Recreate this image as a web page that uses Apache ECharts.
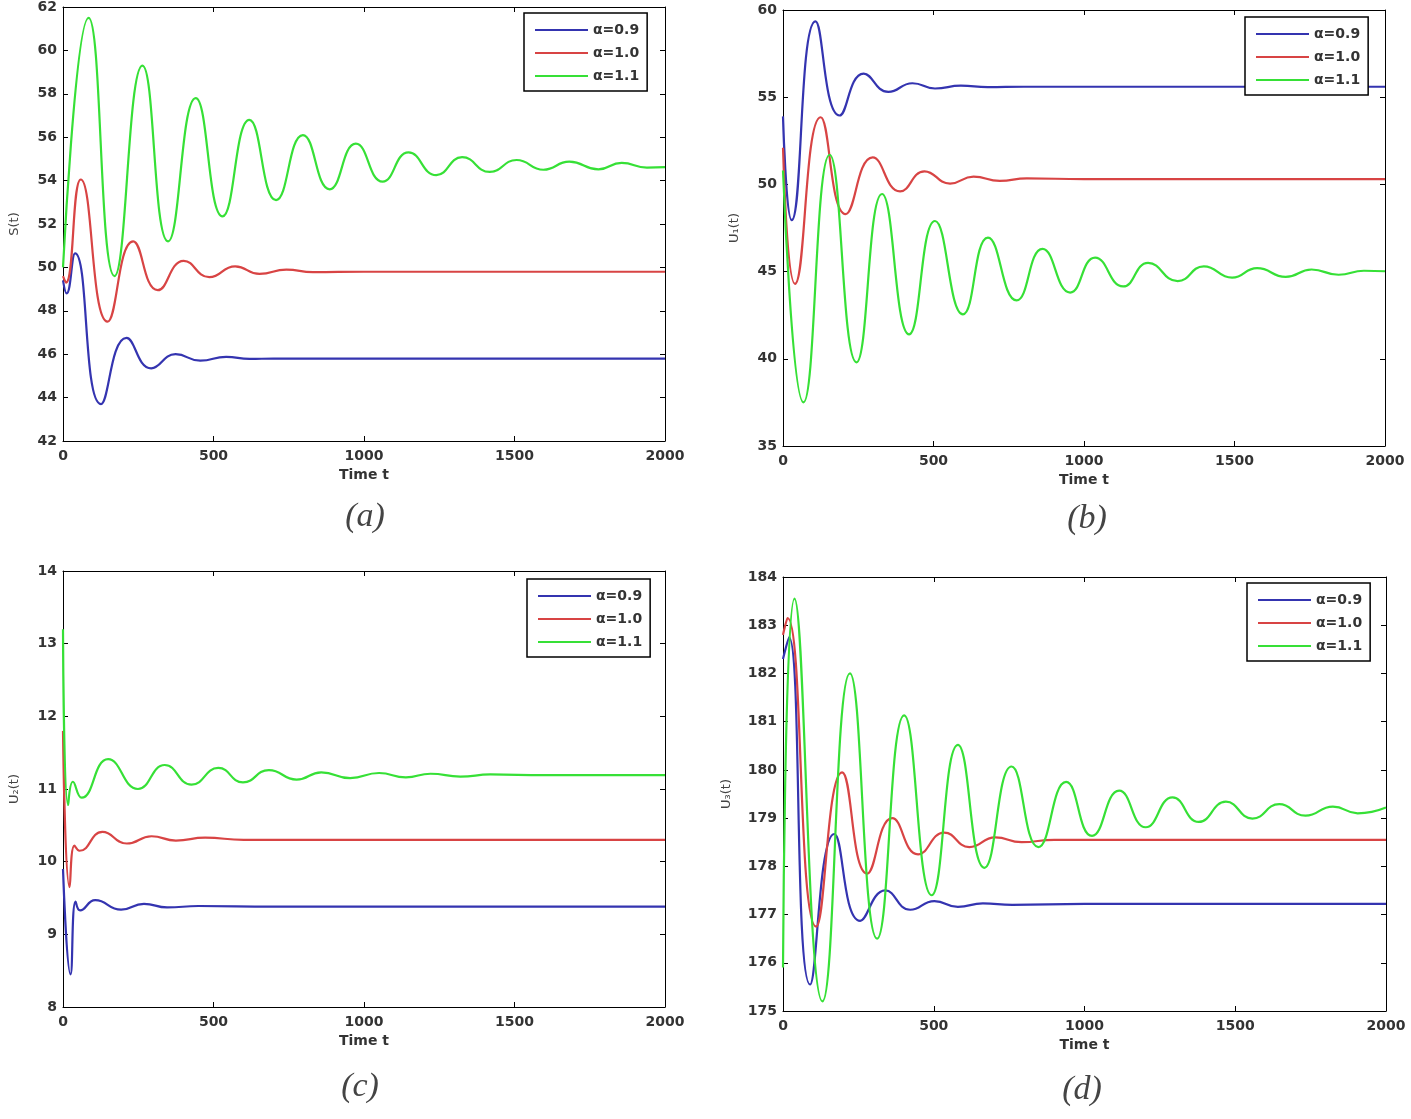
<!DOCTYPE html>
<html>
<head>
<meta charset="utf-8">
<script src="https://cdn.jsdelivr.net/npm/echarts@6/dist/echarts.min.js"></script>
<style>
html,body{margin:0;padding:0;background:#fff;}
#chart{width:1411px;height:1119px;}
</style>
</head>
<body>
<div id="chart"></div>
<script>
// ---- data (time t, value) ----
const seriesNames = ['α=0.9', 'α=1.0', 'α=1.1'];
const panelLabels = ['(a)', '(b)', '(c)', '(d)'];
const yNames = ['S(t)', 'U₁(t)', 'U₂(t)', 'U₃(t)'];
const xName = 'Time t';

// Panel (a) S(t)
const aBlue = [[0,49.4],[12,48.8],[40,50.65],[126,43.7],[211,46.75],[293,45.35],[374,46.0],[456,45.7],[542,45.88],[620,45.78],[700,45.8],[900,45.8],[1300,45.8],[2000,45.8]];
const aRed = [[0,49.6],[10,49.3],[59,54.05],[148,47.5],[233,51.2],[315,48.95],[401,50.3],[486,49.55],[572,50.05],[653,49.7],[742,49.9],[830,49.78],[1000,49.8],[1500,49.8],[2000,49.8]];
const aGreen = [[0,50.0],[85,61.5],[171,49.6],[264,59.3],[349,51.2],[441,57.8],[530,52.35],[619,56.8],[708,53.1],[797,56.1],[886,53.6],[973,55.7],[1062,53.95],[1148,55.3],[1240,54.25],[1326,55.08],[1418,54.4],[1507,54.95],[1596,54.5],[1682,54.87],[1779,54.52],[1856,54.82],[1940,54.6],[2000,54.62]];

// Panel (b) U1(t)
const bBlue = [[0,53.9],[29,47.95],[108,59.35],[188,53.95],[268,56.35],[350,55.3],[430,55.8],[505,55.5],[591,55.66],[680,55.58],[800,55.6],[1200,55.6],[2000,55.6]];
const bRed = [[0,52.1],[40,44.3],[125,53.85],[208,48.3],[298,51.55],[389,49.6],[470,50.75],[555,50.05],[633,50.45],[720,50.2],[810,50.35],[1000,50.3],[1500,50.3],[2000,50.3]];
const bGreen = [[0,50.8],[68,37.5],[155,51.7],[244,39.8],[329,49.45],[419,41.4],[505,47.9],[598,42.55],[681,46.95],[776,43.35],[862,46.3],[954,43.8],[1037,45.8],[1130,44.15],[1213,45.5],[1311,44.45],[1398,45.3],[1492,44.65],[1575,45.2],[1670,44.7],[1756,45.12],[1846,44.82],[1930,45.05],[2000,45.02]];

// Panel (c) U2(t)
const cBlue = [[0,9.9],[25,8.45],[42,9.45],[57,9.33],[107,9.47],[193,9.34],[269,9.42],[346,9.37],[450,9.39],[700,9.38],[1200,9.38],[2000,9.38]];
const cRed = [[0,11.8],[22,9.65],[38,10.22],[55,10.15],[131,10.41],[212,10.25],[294,10.35],[375,10.29],[472,10.33],[600,10.3],[1000,10.3],[2000,10.3]];
const cGreen = [[0,13.2],[17,10.78],[33,11.1],[62,10.88],[150,11.41],[249,11.0],[338,11.33],[427,11.06],[516,11.29],[598,11.09],[684,11.26],[776,11.13],[858,11.23],[954,11.15],[1050,11.22],[1139,11.16],[1221,11.21],[1320,11.17],[1420,11.2],[1600,11.19],[2000,11.19]];

// Panel (d) U3(t)
const dBlue = [[0,182.3],[20,182.75],[90,175.55],[170,178.67],[256,176.87],[339,177.5],[422,177.1],[502,177.28],[580,177.16],[663,177.23],[760,177.2],[1000,177.22],[2000,177.22]];
const dRed = [[0,182.8],[15,183.15],[110,176.75],[196,179.95],[279,177.85],[362,179.0],[448,178.25],[535,178.7],[618,178.4],[704,178.6],[791,178.5],[900,178.55],[1200,178.55],[2000,178.55]];
const dGreen = [[0,175.9],[38,183.55],[131,175.2],[222,182.0],[312,176.5],[402,181.13],[493,177.4],[580,180.52],[668,177.97],[758,180.07],[847,178.4],[939,179.75],[1025,178.63],[1115,179.57],[1203,178.81],[1292,179.43],[1379,178.92],[1469,179.34],[1557,178.99],[1646,179.29],[1733,179.05],[1824,179.24],[1906,179.1],[2000,179.22]];

// axis ranges
const yMin = [42, 35, 8, 175];
const yMax = [62, 60, 14, 184];
const yStep = [2, 5, 1, 1];
const xTicks = [0, 2000, 500];

const panelData = [[aBlue,aRed,aGreen],[bBlue,bRed,bGreen],[cBlue,cRed,cGreen],[dBlue,dRed,dGreen]];
const colors = ['#3434b0', '#d84444', '#36e036'];

// ---- layout ----
const grids = [
  {left:63, top:6, width:602, height:435},
  {left:783, top:10, width:602, height:436},
  {left:63, top:571, width:602, height:436},
  {left:783, top:577, width:603, height:434}
];
const legendPos = [[524,13],[1245,17],[527,579],[1247,583]];
const captionPos = [[365,517],[1087,519],[360,1087],[1082,1090]];
const yNameGap = [42, 42, 42, 50];

const FONT = '"DejaVu Sans", Arial, sans-serif';
const axisLine = {show:true, onZero:false, lineStyle:{color:'#000', width:1}};
const tick = {show:true, inside:true, length:5, lineStyle:{color:'#000', width:1}};
const plain = v => String(v);

const xAxes = [], yAxes = [], series = [], legends = [], graphics = [];
grids.forEach((g, i) => {
  xAxes.push({
    type:'value', gridIndex:i, min:xTicks[0], max:xTicks[1], interval:xTicks[2], position:'bottom',
    axisLine, axisTick:tick, splitLine:{show:false},
    axisLabel:{color:'#333', fontFamily:FONT, fontSize:14, fontWeight:'bold', margin:8, formatter:plain},
    name:xName, nameLocation:'middle', nameGap:27,
    nameTextStyle:{color:'#333', fontFamily:FONT, fontSize:14, fontWeight:'bold'}
  });
  xAxes.push({
    type:'value', gridIndex:i, min:xTicks[0], max:xTicks[1], interval:xTicks[2], position:'top',
    axisLine, axisTick:tick, splitLine:{show:false}, axisLabel:{show:false}
  });
  yAxes.push({
    type:'value', gridIndex:i, min:yMin[i], max:yMax[i], interval:yStep[i], position:'left',
    axisLine, axisTick:tick, splitLine:{show:false},
    axisLabel:{color:'#333', fontFamily:FONT, fontSize:14, fontWeight:'bold', margin:6, formatter:plain},
    name:yNames[i], nameLocation:'middle', nameGap:yNameGap[i], nameRotate:90,
    nameTextStyle:{color:'#444', fontFamily:FONT, fontSize:13}
  });
  yAxes.push({
    type:'value', gridIndex:i, min:yMin[i], max:yMax[i], interval:yStep[i], position:'right',
    axisLine, axisTick:tick, splitLine:{show:false}, axisLabel:{show:false}
  });
  panelData[i].forEach((d, k) => {
    series.push({
      type:'line', name:seriesNames[k], xAxisIndex:2*i, yAxisIndex:2*i,
      data:d, smooth:0.5, showSymbol:false, symbol:'none',
      lineStyle:{color:colors[k], width:2.2}, itemStyle:{color:colors[k]},
      z: 3 + k, animation:false
    });
  });
  legends.push({
    data:seriesNames, orient:'vertical', left:legendPos[i][0], top:legendPos[i][1],
    icon:'rect', itemWidth:53, itemHeight:2, itemGap:7,
    padding:[9,8,7,11], borderColor:'#000', borderWidth:1.5, backgroundColor:'#fff',
    textStyle:{color:'#333', fontFamily:FONT, fontSize:14, fontWeight:'bold', lineHeight:16}
  });
  graphics.push({
    type:'text', x:captionPos[i][0], y:captionPos[i][1],
    style:{text:panelLabels[i], fill:'#444', font:'italic 34px "Liberation Serif", "DejaVu Serif", serif',
      align:'center', verticalAlign:'middle'}
  });
});

const chart = echarts.init(document.getElementById('chart'), null, {renderer:'canvas'});
chart.setOption({
  backgroundColor:'#fff',
  animation:false,
  grid:grids.map(g => Object.assign({containLabel:false}, g)),
  xAxis:xAxes, yAxis:yAxes, series, legend:legends, graphic:graphics
});
</script>
</body>
</html>
